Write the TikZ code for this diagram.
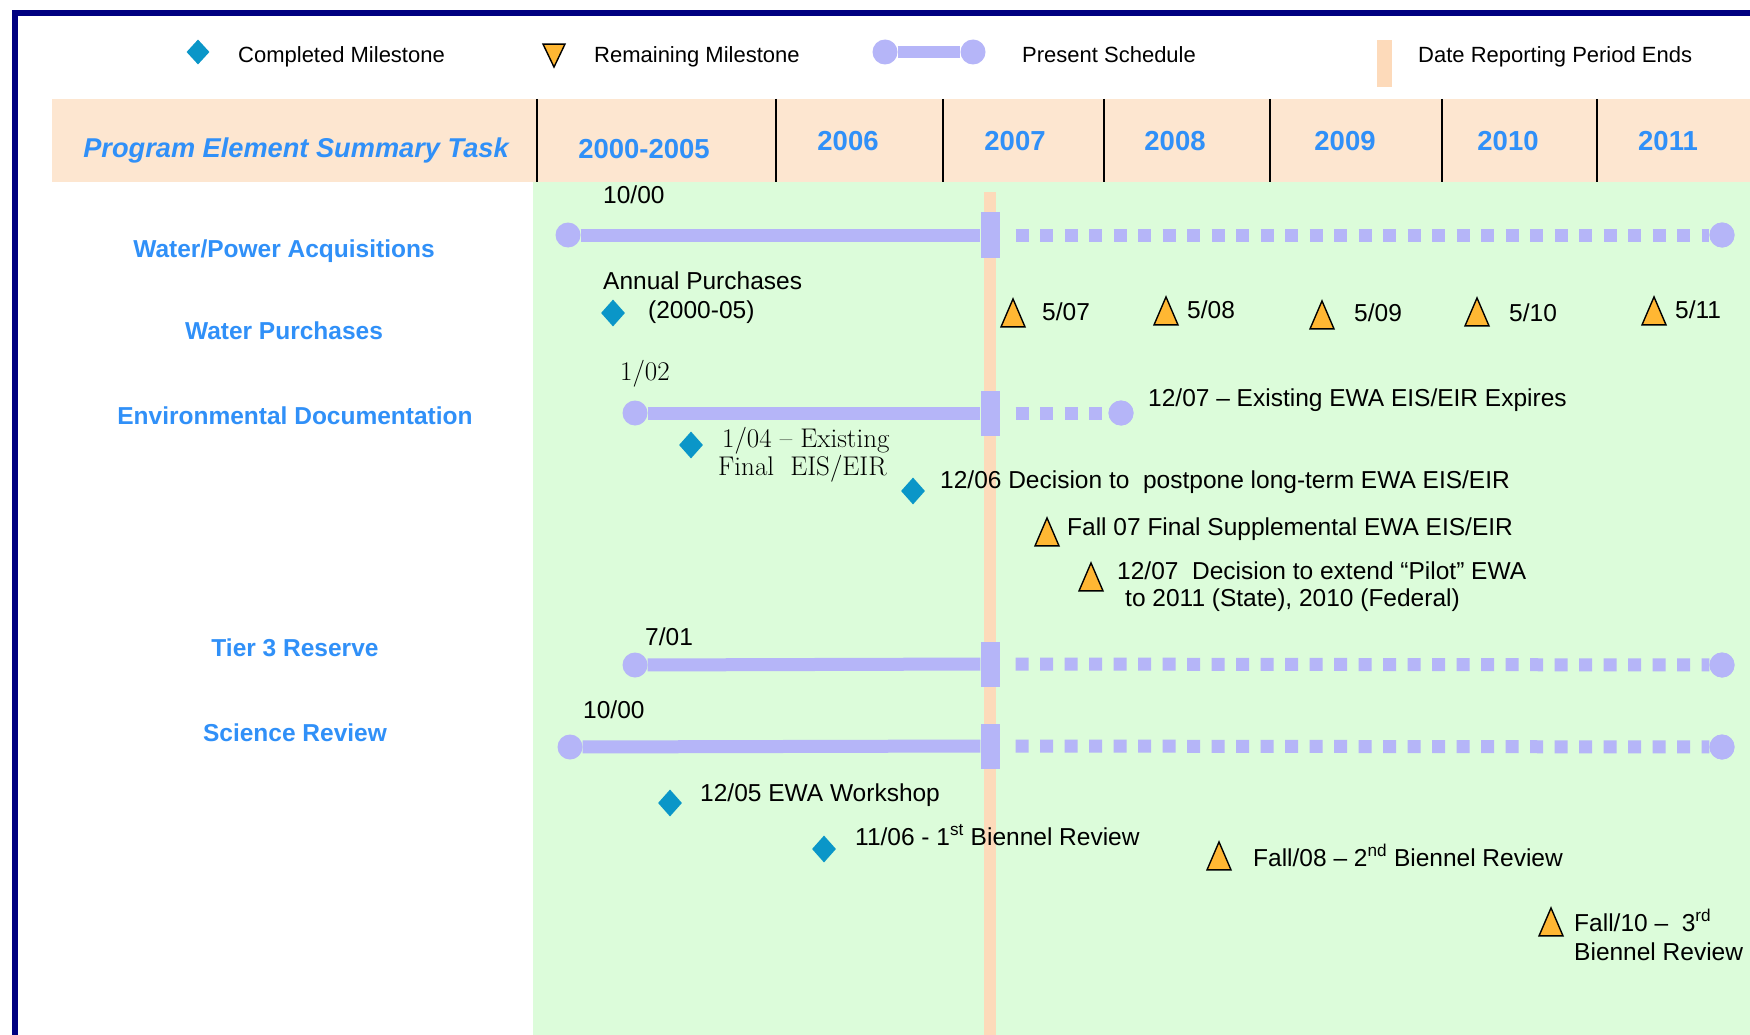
\documentclass[tikz,border=0pt]{standalone}
\usepackage{fontspec}
\setsansfont{Liberation Sans}
\usetikzlibrary{shapes.geometric}
\definecolor{navy}{HTML}{000080}
\definecolor{hdr}{HTML}{FDE6D0}
\definecolor{grn}{HTML}{DCFCDA}
\definecolor{rep}{HTML}{FDDABA}
\definecolor{lav}{HTML}{B5B5F8}
\definecolor{blu}{HTML}{3090F8}
\definecolor{dia}{HTML}{0A96C8}
\definecolor{tri}{HTML}{FFB733}
\begin{document}
\begin{tikzpicture}[x=1pt,y=-1pt,
 txt/.style={font=\sffamily\fontsize{24.5}{27}\selectfont, inner sep=0pt, anchor=base west, align=left},
 legtxt/.style={font=\sffamily\fontsize{22}{26}\selectfont, inner sep=0pt, anchor=base west},
 sertxt/.style={font=\rmfamily\fontsize{27}{28}\selectfont, inner sep=0pt, anchor=base west, align=left},
 rowlbl/.style={font=\sffamily\bfseries\fontsize{24.5}{27}\selectfont, text=blu, inner sep=0pt, anchor=base},
 yearlbl/.style={font=\sffamily\bfseries\fontsize{27.5}{30}\selectfont, text=blu, inner sep=0pt, anchor=base},
 done/.style={diamond, fill=dia, minimum width=24pt, minimum height=27pt, inner sep=0pt},
 todo/.style={isosceles triangle, isosceles triangle apex angle=47, isosceles triangle stretches, shape border rotate=90, fill=tri, draw=black, line width=1.4pt, minimum width=24pt, minimum height=28pt, inner sep=0pt},
 endcap/.style={circle, fill=lav, minimum size=25pt, inner sep=0pt},
 nowblk/.style={rectangle, fill=lav, minimum width=19pt, minimum height=45pt, inner sep=0pt},
 solidbar/.style={lav, line width=13pt},
 dotbar/.style={lav, line width=13pt, dash pattern=on 13pt off 11.5pt, dash phase=13pt},
]
\useasboundingbox (0,0) rectangle (1750,1035);
\clip (0,0) rectangle (1750,1035);
\fill[white] (0,0) rectangle (1750,1035);
% header band and green chart area
\fill[hdr] (52,99) rectangle (1760,182);
\fill[grn] (533,182) rectangle (1760,1040);
\draw[navy, line width=6pt] (15,1045) -- (15,13) -- (1760,13);
\foreach \x in {537,776,943,1104,1270,1442,1597} \draw[line width=1.6pt] (\x,99) -- (\x,182);
% date reporting period line
\fill[rep] (984,192) rectangle (996,1040);

% legend
\node[done, minimum width=23pt, minimum height=25pt] (lgdone) at (198,52) {};
\node[legtxt] (lgdonet) at (238,63) {Completed Milestone};
\node[todo, shape border rotate=270, minimum width=22pt, minimum height=23pt] (lgtodo) at (554,51) {};
\node[legtxt] (lgtodot) at (594,63) {Remaining Milestone};
\node[endcap] (lgs1) at (885,52) {};
\node[endcap] (lgs2) at (973,52) {};
\draw[lav, line width=12pt] (lgs1) -- (lgs2);
\node[legtxt] (lgschedt) at (1022,63) {Present Schedule};
\node[fill=rep, minimum width=15pt, minimum height=47pt, inner sep=0pt] (lgrep) at (1384.5,63.5) {};
\node[legtxt] (lgrept) at (1418,63) {Date Reporting Period Ends};

% header texts
\node[font=\sffamily\bfseries\itshape\fontsize{27.2}{32}\selectfont, text=blu, inner sep=0pt, anchor=base] (hdtask) at (296,158) {Program Element Summary Task};
\node[yearlbl] (y0) at (644,159) {2000-2005};
\node[yearlbl] (y6) at (848,151) {2006};
\node[yearlbl] (y7) at (1015,151) {2007};
\node[yearlbl] (y8) at (1175,151) {2008};
\node[yearlbl] (y9) at (1345,151) {2009};
\node[yearlbl] (y10) at (1508,151) {2010};
\node[yearlbl] (y11) at (1668,151) {2011};

% row labels
\node[rowlbl] (r1) at (284,257) {Water/Power Acquisitions};
\node[rowlbl] (r2) at (284,339) {Water Purchases};
\node[rowlbl] (r3) at (295,424) {Environmental Documentation};
\node[rowlbl] (r4) at (295,656) {Tier 3 Reserve};
\node[rowlbl] (r5) at (295,741) {Science Review};

% row 1: water/power acquisitions
\node[txt] (a1t) at (603,204) {10/00};
\node[endcap] (a1s) at (568,235) {};
\node[nowblk] (a1b) at (990,235) {};
\node[endcap] (a1e) at (1722,235) {};
\draw[solidbar] (a1s) -- (a1b);
\draw[dotbar] ([xshift=4.5pt]a1b.east) -- (a1e);
\node[endcap] at (a1e) {};

% row 2: water purchases
\node[txt] (p0t) at (603,289) {Annual Purchases};
\node[done] (p0) at (613,313) {};
\node[txt] (p0d) at (648,318) {(2000-05)};
\node[todo] (p7) at (1013,319) {};
\node[txt] (p7t) at (1042,320) {5/07};
\node[todo] (p8) at (1166,317) {};
\node[txt] (p8t) at (1187,318) {5/08};
\node[todo] (p9) at (1322,321) {};
\node[txt] (p9t) at (1354,321) {5/09};
\node[todo] (p10) at (1477,318) {};
\node[txt] (p10t) at (1509,321) {5/10};
\node[todo] (p11) at (1654,317) {};
\node[txt] (p11t) at (1675,318) {5/11};

% row 3: environmental documentation
\node[sertxt] (e1t) at (620,380) {1/02};
\node[endcap] (e1s) at (635,413) {};
\node[nowblk] (e1b) at (990,413) {};
\node[endcap] (e1e) at (1121,413) {};
\draw[solidbar] (e1s) -- (e1b);
\draw[dotbar] ([xshift=4.5pt]e1b.east) -- (e1e);
\node[endcap] at (e1e) {};
\node[txt] (e1x) at (1148,406) {12/07 -- Existing EWA EIS/EIR Expires};
\node[done] (e2) at (691,445) {};
\node[sertxt] (e2t) at (722,475) {1/04 -- Existing\\\hspace{-4pt}Final\ \ EIS/EIR};
\node[done] (e3) at (913,491) {};
\node[txt] (e3t) at (940,488) {12/06 Decision to\ \ postpone long-term EWA EIS/EIR};
\node[todo] (e4) at (1047,538) {};
\node[txt] (e4t) at (1067,535) {Fall 07 Final Supplemental EWA EIS/EIR};
\node[todo] (e5) at (1091,583) {};
\node[txt] (e5t) at (1117,606) {12/07\ \ Decision to extend “Pilot” EWA\\\hspace{8pt}to 2011 (State), 2010 (Federal)};

% row 4: tier 3 reserve
\node[txt] (t1t) at (645,645) {7/01};
\node[endcap] (t1s) at (635,665) {};
\node[nowblk] (t1b) at (990,664) {};
\node[endcap] (t1e) at (1722,665) {};
\draw[solidbar] (t1s) -- (t1b);
\draw[dotbar] ([xshift=4.5pt]t1b.east) -- (t1e);
\node[endcap] at (t1e) {};

% row 5: science review
\node[txt] (s1t) at (583,718) {10/00};
\node[endcap] (s1s) at (570,747) {};
\node[nowblk] (s1b) at (990,746) {};
\node[endcap] (s1e) at (1722,747) {};
\draw[solidbar] (s1s) -- (s1b);
\draw[dotbar] ([xshift=4.5pt]s1b.east) -- (s1e);
\node[endcap] at (s1e) {};
\node[done] (s2) at (670,803) {};
\node[txt] (s2t) at (700,801) {12/05 EWA Workshop};
\node[done] (s3) at (824,849) {};
\node[txt] (s3t) at (855,845) {11/06 - 1\textsuperscript{st} Biennel Review};
\node[todo] (s4) at (1219,862) {};
\node[txt] (s4t) at (1253,866) {Fall/08 -- 2\textsuperscript{nd} Biennel Review};
\node[todo] (s5) at (1551,928) {};
\node[txt] (s5t) at (1574,960) {Fall/10 --\ \ 3\textsuperscript{rd}\\[2pt]Biennel Review};
\end{tikzpicture}
\end{document}
